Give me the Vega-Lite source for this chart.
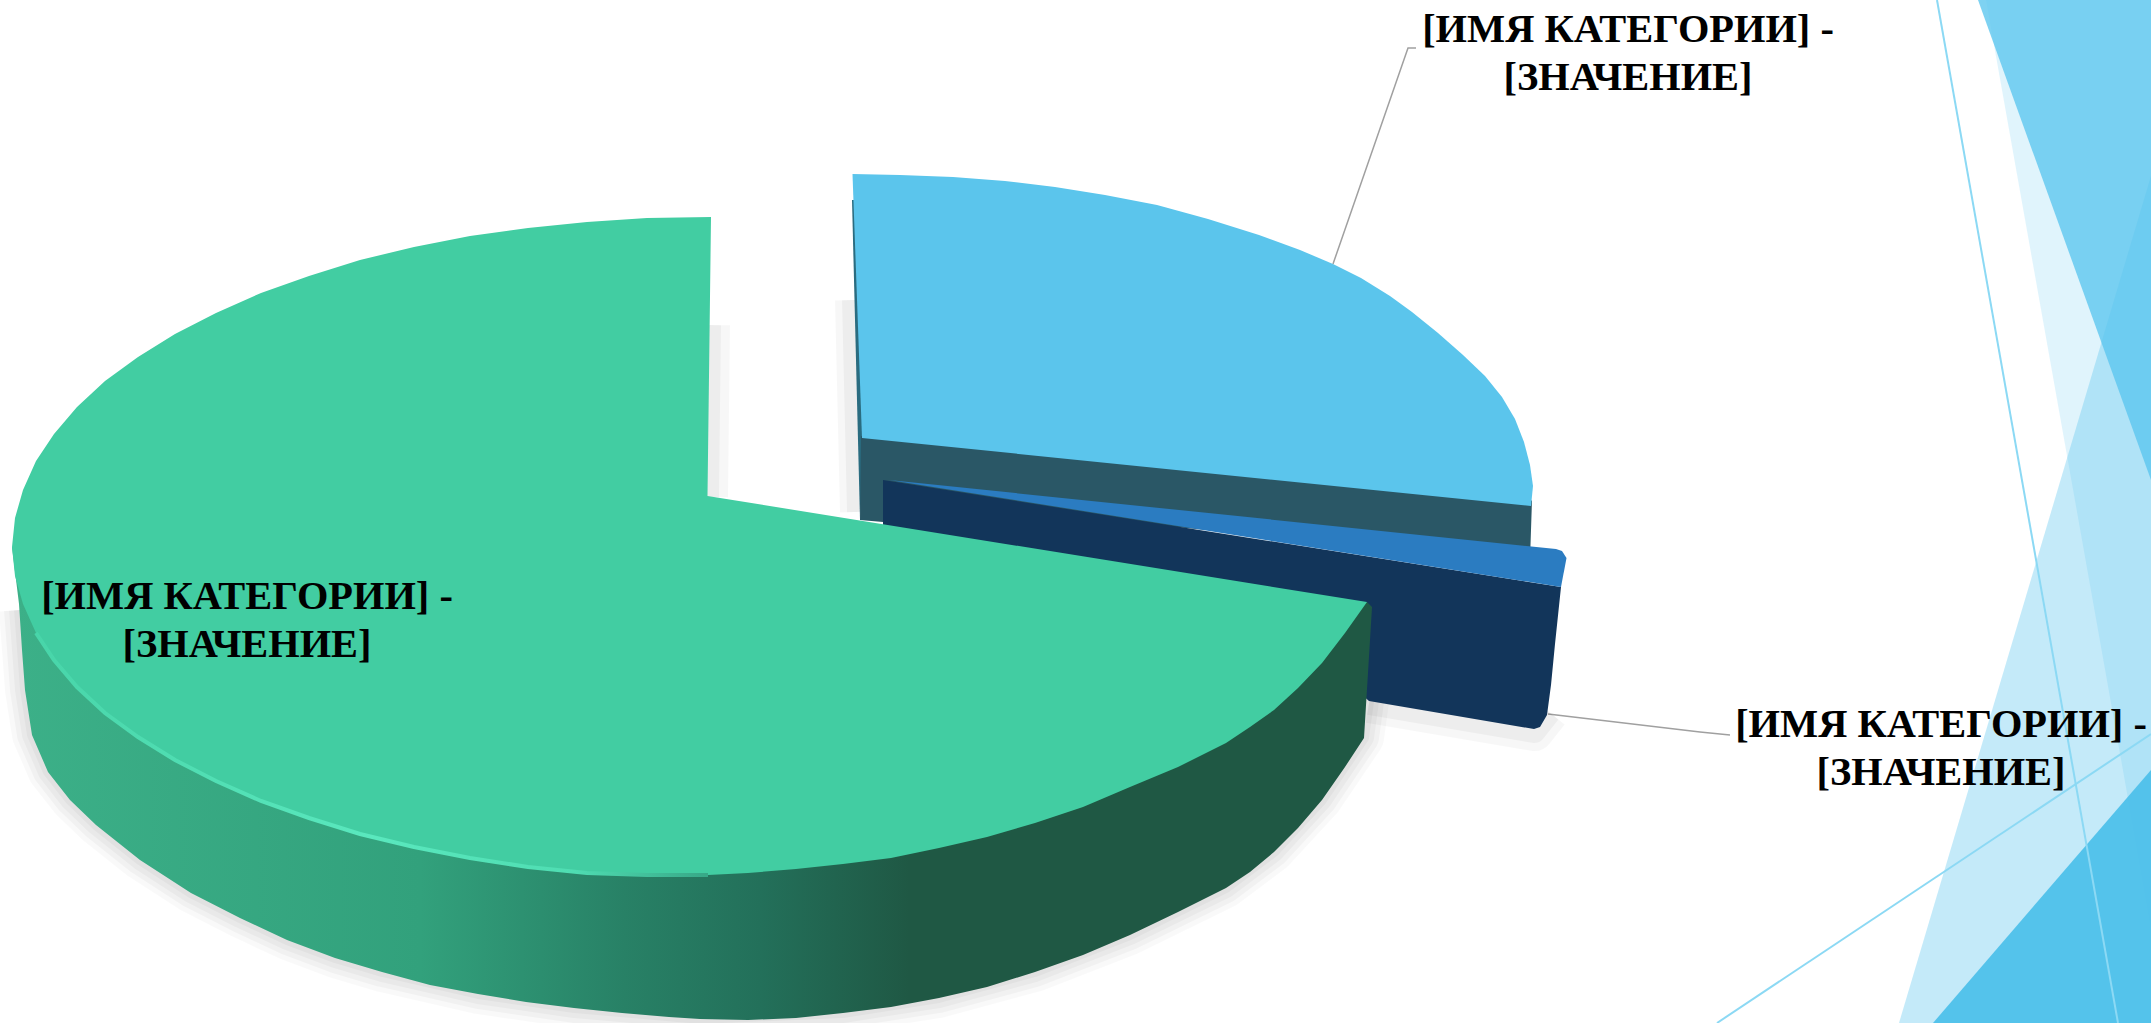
{"$schema":"https://vega.github.io/schema/vega-lite/v6.json","width":2151,"height":1023,"padding":0,"autosize":{"type":"none"},"background":"white","config":{"view":{"stroke":null}},
"datasets":{"outlines":[
{"s":"A","i":0,"x":1978,"y":0},{"s":"A","i":1,"x":2151,"y":0},{"s":"A","i":2,"x":2151,"y":480},
{"s":"C","i":0,"x":1986,"y":0},{"s":"C","i":1,"x":2151,"y":0},{"s":"C","i":2,"x":2151,"y":928},
{"s":"B","i":0,"x":2151,"y":176},{"s":"B","i":1,"x":2151,"y":1023},{"s":"B","i":2,"x":1899,"y":1023},
{"s":"D","i":0,"x":1933,"y":1023},{"s":"D","i":1,"x":2151,"y":770},{"s":"D","i":2,"x":2151,"y":1023},
{"s":"L1","i":0,"x":1937,"y":0},{"s":"L1","i":1,"x":2118,"y":1023},
{"s":"L2","i":0,"x":1717,"y":1023},{"s":"L2","i":1,"x":2151,"y":734},
{"s":"SH","i":0,"x":19,"y":610},{"s":"SH","i":1,"x":22,"y":650},{"s":"SH","i":2,"x":25,"y":690},{"s":"SH","i":3,"x":32,"y":735},{"s":"SH","i":4,"x":48,"y":772},{"s":"SH","i":5,"x":70,"y":800},{"s":"SH","i":6,"x":96,"y":825},{"s":"SH","i":7,"x":140,"y":860},{"s":"SH","i":8,"x":191,"y":893},{"s":"SH","i":9,"x":240,"y":918},{"s":"SH","i":10,"x":287,"y":940},{"s":"SH","i":11,"x":335,"y":958},{"s":"SH","i":12,"x":382,"y":972},{"s":"SH","i":13,"x":478,"y":994},{"s":"SH","i":14,"x":574,"y":1008},{"s":"SH","i":15,"x":700,"y":1019},{"s":"SH","i":16,"x":843,"y":1013},{"s":"SH","i":17,"x":939,"y":998},{"s":"SH","i":18,"x":1035,"y":972},{"s":"SH","i":19,"x":1130,"y":935},{"s":"SH","i":20,"x":1226,"y":888},{"s":"SH","i":21,"x":1274,"y":852},{"s":"SH","i":22,"x":1322,"y":800},{"s":"SH","i":23,"x":1364,"y":738},{"s":"SH","i":24,"x":1372,"y":680},
{"s":"SN","i":0,"x":1369,"y":703},{"s":"SN","i":1,"x":1534,"y":731},{"s":"SN","i":2,"x":1549,"y":712},
{"s":"SL","i":0,"x":851,"y":300},{"s":"SL","i":1,"x":856,"y":512},
{"s":"SR","i":0,"x":710,"y":325},{"s":"SR","i":1,"x":708,"y":497},
{"s":"LD1","i":0,"x":1333,"y":264},{"s":"LD1","i":1,"x":1408,"y":48},{"s":"LD1","i":2,"x":1416,"y":48},
{"s":"LD2","i":0,"x":1548,"y":714},{"s":"LD2","i":1,"x":1700,"y":732},{"s":"LD2","i":2,"x":1730,"y":735},
{"s":"BE","i":0,"x":852,"y":200},{"s":"BE","i":1,"x":858,"y":200},{"s":"BE","i":2,"x":865,"y":440},{"s":"BE","i":3,"x":860,"y":520},
{"s":"BW","i":0,"x":861,"y":436},{"s":"BW","i":1,"x":1528,"y":504},{"s":"BW","i":2,"x":1532,"y":500},{"s":"BW","i":3,"x":1530,"y":560},{"s":"BW","i":4,"x":883,"y":500},{"s":"BW","i":5,"x":883,"y":522},{"s":"BW","i":6,"x":860,"y":520},
{"s":"BT","i":0,"x":852.5,"y":174},{"s":"BT","i":1,"x":900,"y":175},{"s":"BT","i":2,"x":953,"y":177},{"s":"BT","i":3,"x":1005,"y":181},{"s":"BT","i":4,"x":1055,"y":187},{"s":"BT","i":5,"x":1105,"y":195},{"s":"BT","i":6,"x":1157,"y":205},{"s":"BT","i":7,"x":1208,"y":219},{"s":"BT","i":8,"x":1259,"y":235},{"s":"BT","i":9,"x":1300,"y":250},{"s":"BT","i":10,"x":1333,"y":264},{"s":"BT","i":11,"x":1361,"y":278},{"s":"BT","i":12,"x":1390,"y":296},{"s":"BT","i":13,"x":1412,"y":312},{"s":"BT","i":14,"x":1438,"y":333},{"s":"BT","i":15,"x":1463,"y":355},{"s":"BT","i":16,"x":1485,"y":376},{"s":"BT","i":17,"x":1502,"y":397},{"s":"BT","i":18,"x":1515,"y":419},{"s":"BT","i":19,"x":1524,"y":442},{"s":"BT","i":20,"x":1530,"y":465},{"s":"BT","i":21,"x":1533,"y":486},{"s":"BT","i":22,"x":1531,"y":506},{"s":"BT","i":23,"x":862,"y":438},
{"s":"NW","i":0,"x":883,"y":480},{"s":"NW","i":1,"x":1561,"y":587},{"s":"NW","i":2,"x":1555,"y":644},{"s":"NW","i":3,"x":1551,"y":685},{"s":"NW","i":4,"x":1547,"y":715},{"s":"NW","i":5,"x":1540,"y":727},{"s":"NW","i":6,"x":1534,"y":729},{"s":"NW","i":7,"x":1369,"y":701},{"s":"NW","i":8,"x":1300,"y":640},{"s":"NW","i":9,"x":883,"y":530},
{"s":"NT","i":0,"x":889,"y":480},{"s":"NT","i":1,"x":1556,"y":549},{"s":"NT","i":2,"x":1562,"y":551},{"s":"NT","i":3,"x":1566.5,"y":558},{"s":"NT","i":4,"x":1561,"y":587},
{"s":"GW","i":0,"x":12,"y":547},{"s":"GW","i":1,"x":19,"y":604},{"s":"GW","i":2,"x":22,"y":650},{"s":"GW","i":3,"x":25,"y":690},{"s":"GW","i":4,"x":32,"y":735},{"s":"GW","i":5,"x":48,"y":772},{"s":"GW","i":6,"x":70,"y":800},{"s":"GW","i":7,"x":96,"y":825},{"s":"GW","i":8,"x":140,"y":860},{"s":"GW","i":9,"x":191,"y":893},{"s":"GW","i":10,"x":240,"y":918},{"s":"GW","i":11,"x":287,"y":940},{"s":"GW","i":12,"x":335,"y":958},{"s":"GW","i":13,"x":382,"y":972},{"s":"GW","i":14,"x":430,"y":985},{"s":"GW","i":15,"x":478,"y":994},{"s":"GW","i":16,"x":526,"y":1002},{"s":"GW","i":17,"x":574,"y":1008},{"s":"GW","i":18,"x":622,"y":1013},{"s":"GW","i":19,"x":669,"y":1017},{"s":"GW","i":20,"x":700,"y":1019},{"s":"GW","i":21,"x":748,"y":1020},{"s":"GW","i":22,"x":796,"y":1018},{"s":"GW","i":23,"x":843,"y":1013},{"s":"GW","i":24,"x":891,"y":1007},{"s":"GW","i":25,"x":939,"y":998},{"s":"GW","i":26,"x":987,"y":987},{"s":"GW","i":27,"x":1035,"y":972},{"s":"GW","i":28,"x":1083,"y":955},{"s":"GW","i":29,"x":1130,"y":935},{"s":"GW","i":30,"x":1178,"y":912},{"s":"GW","i":31,"x":1202,"y":900},{"s":"GW","i":32,"x":1226,"y":888},{"s":"GW","i":33,"x":1250,"y":872},{"s":"GW","i":34,"x":1274,"y":852},{"s":"GW","i":35,"x":1298,"y":828},{"s":"GW","i":36,"x":1322,"y":800},{"s":"GW","i":37,"x":1345,"y":767},{"s":"GW","i":38,"x":1364,"y":738},{"s":"GW","i":39,"x":1372,"y":607},{"s":"GW","i":40,"x":1367,"y":602},{"s":"GW","i":41,"x":708,"y":700},
{"s":"GT","i":0,"x":711,"y":217},{"s":"GT","i":1,"x":707.5,"y":496},{"s":"GT","i":2,"x":1367,"y":602},{"s":"GT","i":3,"x":1345,"y":633},{"s":"GT","i":4,"x":1322,"y":663},{"s":"GT","i":5,"x":1298,"y":688},{"s":"GT","i":6,"x":1274,"y":710},{"s":"GT","i":7,"x":1250,"y":727},{"s":"GT","i":8,"x":1226,"y":743},{"s":"GT","i":9,"x":1202,"y":755},{"s":"GT","i":10,"x":1178,"y":767},{"s":"GT","i":11,"x":1130,"y":787},{"s":"GT","i":12,"x":1083,"y":807},{"s":"GT","i":13,"x":1035,"y":823},{"s":"GT","i":14,"x":987,"y":837},{"s":"GT","i":15,"x":939,"y":848},{"s":"GT","i":16,"x":891,"y":858},{"s":"GT","i":17,"x":843,"y":864},{"s":"GT","i":18,"x":796,"y":869},{"s":"GT","i":19,"x":748,"y":873},{"s":"GT","i":20,"x":708,"y":875},{"s":"GT","i":21,"x":647,"y":875},{"s":"GT","i":22,"x":587,"y":873},{"s":"GT","i":23,"x":528,"y":867},{"s":"GT","i":24,"x":470,"y":858},{"s":"GT","i":25,"x":414,"y":847},{"s":"GT","i":26,"x":360,"y":834},{"s":"GT","i":27,"x":309,"y":818},{"s":"GT","i":28,"x":261,"y":801},{"s":"GT","i":29,"x":216,"y":781},{"s":"GT","i":30,"x":175,"y":760},{"s":"GT","i":31,"x":138,"y":737},{"s":"GT","i":32,"x":105,"y":713},{"s":"GT","i":33,"x":77,"y":687},{"s":"GT","i":34,"x":54,"y":660},{"s":"GT","i":35,"x":36,"y":633},{"s":"GT","i":36,"x":23,"y":604},{"s":"GT","i":37,"x":15,"y":576},{"s":"GT","i":38,"x":12,"y":547},{"s":"GT","i":39,"x":15,"y":518},{"s":"GT","i":40,"x":23,"y":490},{"s":"GT","i":41,"x":36,"y":461},{"s":"GT","i":42,"x":54,"y":434},{"s":"GT","i":43,"x":77,"y":407},{"s":"GT","i":44,"x":105,"y":381},{"s":"GT","i":45,"x":138,"y":357},{"s":"GT","i":46,"x":175,"y":334},{"s":"GT","i":47,"x":216,"y":313},{"s":"GT","i":48,"x":261,"y":293},{"s":"GT","i":49,"x":309,"y":276},{"s":"GT","i":50,"x":360,"y":260},{"s":"GT","i":51,"x":414,"y":247},{"s":"GT","i":52,"x":470,"y":236},{"s":"GT","i":53,"x":528,"y":228},{"s":"GT","i":54,"x":587,"y":222},{"s":"GT","i":55,"x":647,"y":218},
{"s":"HL","i":0,"x":36,"y":633},{"s":"HL","i":1,"x":54,"y":660},{"s":"HL","i":2,"x":77,"y":687},{"s":"HL","i":3,"x":105,"y":713},{"s":"HL","i":4,"x":138,"y":737},{"s":"HL","i":5,"x":175,"y":760},{"s":"HL","i":6,"x":216,"y":781},{"s":"HL","i":7,"x":261,"y":801},{"s":"HL","i":8,"x":309,"y":818},{"s":"HL","i":9,"x":360,"y":834},{"s":"HL","i":10,"x":414,"y":847},{"s":"HL","i":11,"x":470,"y":858},{"s":"HL","i":12,"x":528,"y":867},{"s":"HL","i":13,"x":587,"y":873},{"s":"HL","i":14,"x":647,"y":875},{"s":"HL","i":15,"x":708,"y":875},
{"s":"T","i":0,"x":1628,"y":42,"label":"[ИМЯ КАТЕГОРИИ] -\n[ЗНАЧЕНИЕ]"},
{"s":"T","i":1,"x":1941,"y":737,"label":"[ИМЯ КАТЕГОРИИ] -\n[ЗНАЧЕНИЕ]"},
{"s":"T","i":2,"x":247,"y":609,"label":"[ИМЯ КАТЕГОРИИ] -\n[ЗНАЧЕНИЕ]"}
]},
"data":{"name":"outlines"},
"encoding":{"x":{"field":"x","type":"quantitative","axis":null,"scale":{"domain":[0,2151]}},"y":{"field":"y","type":"quantitative","axis":null,"scale":{"domain":[1023,0]}},"order":{"field":"i","type":"quantitative"}},
"layer":[
{"transform":[{"filter":"datum.s=='C'"}],"mark":{"type":"line","interpolate":"linear-closed","fill":"#5BC6EE","fillOpacity":0.19,"strokeWidth":0}},
{"transform":[{"filter":"datum.s=='A'"}],"mark":{"type":"line","interpolate":"linear-closed","fill":"#5BC6EE","fillOpacity":0.79,"strokeWidth":0}},
{"transform":[{"filter":"datum.s=='B'"}],"mark":{"type":"line","interpolate":"linear-closed","fill":"#5BC6EE","fillOpacity":0.36,"strokeWidth":0}},
{"transform":[{"filter":"datum.s=='D'"}],"mark":{"type":"line","interpolate":"linear-closed","fill":"#4FC1EA","fillOpacity":0.96,"strokeWidth":0}},
{"transform":[{"filter":"datum.s=='L1'"}],"mark":{"type":"line","stroke":"#8CD9F4","strokeWidth":2}},
{"transform":[{"filter":"datum.s=='L2'"}],"mark":{"type":"line","stroke":"#8CD9F4","strokeWidth":2}},
{"transform":[{"filter":"datum.s=='LD1'"}],"mark":{"type":"line","stroke":"#A0A0A0","strokeWidth":1.5}},
{"transform":[{"filter":"datum.s=='LD2'"}],"mark":{"type":"line","stroke":"#A0A0A0","strokeWidth":1.5}},
{"transform":[{"filter":"datum.s=='SH'"}],"mark":{"type":"line","stroke":"#000000","strokeOpacity":0.025,"strokeWidth":40,"strokeJoin":"round"}},
{"transform":[{"filter":"datum.s=='SH'"}],"mark":{"type":"line","stroke":"#000000","strokeOpacity":0.03,"strokeWidth":30,"strokeJoin":"round"}},
{"transform":[{"filter":"datum.s=='SH'"}],"mark":{"type":"line","stroke":"#000000","strokeOpacity":0.03,"strokeWidth":20,"strokeJoin":"round"}},
{"transform":[{"filter":"datum.s=='SH'"}],"mark":{"type":"line","stroke":"#000000","strokeOpacity":0.03,"strokeWidth":10,"strokeJoin":"round"}},
{"transform":[{"filter":"datum.s=='SN'"}],"mark":{"type":"line","stroke":"#000000","strokeOpacity":0.03,"strokeWidth":40,"strokeJoin":"round"}},
{"transform":[{"filter":"datum.s=='SN'"}],"mark":{"type":"line","stroke":"#000000","strokeOpacity":0.04,"strokeWidth":24,"strokeJoin":"round"}},
{"transform":[{"filter":"datum.s=='SL'"}],"mark":{"type":"line","stroke":"#000000","strokeOpacity":0.03,"strokeWidth":32}},
{"transform":[{"filter":"datum.s=='SL'"}],"mark":{"type":"line","stroke":"#000000","strokeOpacity":0.04,"strokeWidth":18}},
{"transform":[{"filter":"datum.s=='SR'"}],"mark":{"type":"line","stroke":"#000000","strokeOpacity":0.03,"strokeWidth":40}},
{"transform":[{"filter":"datum.s=='SR'"}],"mark":{"type":"line","stroke":"#000000","strokeOpacity":0.04,"strokeWidth":22}},
{"transform":[{"filter":"datum.s=='BE'"}],"mark":{"type":"line","interpolate":"linear-closed","fill":"#2A6C80","strokeWidth":0}},
{"transform":[{"filter":"datum.s=='BW'"}],"mark":{"type":"line","interpolate":"linear-closed","fill":"#2A5766","strokeWidth":0}},
{"transform":[{"filter":"datum.s=='BT'"}],"mark":{"type":"line","interpolate":"linear-closed","fill":"#5BC5EC","strokeWidth":0}},
{"transform":[{"filter":"datum.s=='NW'"}],"mark":{"type":"line","interpolate":"linear-closed","fill":"#12355A","strokeWidth":0}},
{"transform":[{"filter":"datum.s=='NT'"}],"mark":{"type":"line","interpolate":"linear-closed","fill":"#2B7CC1","strokeWidth":0}},
{"transform":[{"filter":"datum.s=='GW'"}],"mark":{"type":"line","interpolate":"linear-closed","strokeWidth":0,"fill":{"gradient":"linear","x1":0,"x2":1,"y1":0,"y2":0,"stops":[{"offset":0,"color":"#3CB088"},{"offset":0.3,"color":"#32A17C"},{"offset":0.45,"color":"#288166"},{"offset":0.55,"color":"#23705A"},{"offset":0.66,"color":"#1F5844"},{"offset":1,"color":"#1F5844"}]}}},
{"transform":[{"filter":"datum.s=='GT'"}],"mark":{"type":"line","interpolate":"linear-closed","fill":"#42CDA2","strokeWidth":0}},
{"transform":[{"filter":"datum.s=='HL'"}],"mark":{"type":"line","strokeWidth":4,"stroke":{"gradient":"linear","x1":0,"x2":1,"y1":0,"y2":0,"stops":[{"offset":0,"color":"#48D5A9"},{"offset":0.5,"color":"#5AE8BE"},{"offset":0.8,"color":"#4FDDB2"},{"offset":1,"color":"#37A887"}]}}},
{"transform":[{"filter":"datum.s=='T'"}],"mark":{"type":"text","font":"Liberation Serif","fontWeight":"bold","fontSize":40.4,"color":"#000000","lineBreak":"\n","lineHeight":48,"align":"center","baseline":"alphabetic"},"encoding":{"text":{"field":"label"}}}
]}
